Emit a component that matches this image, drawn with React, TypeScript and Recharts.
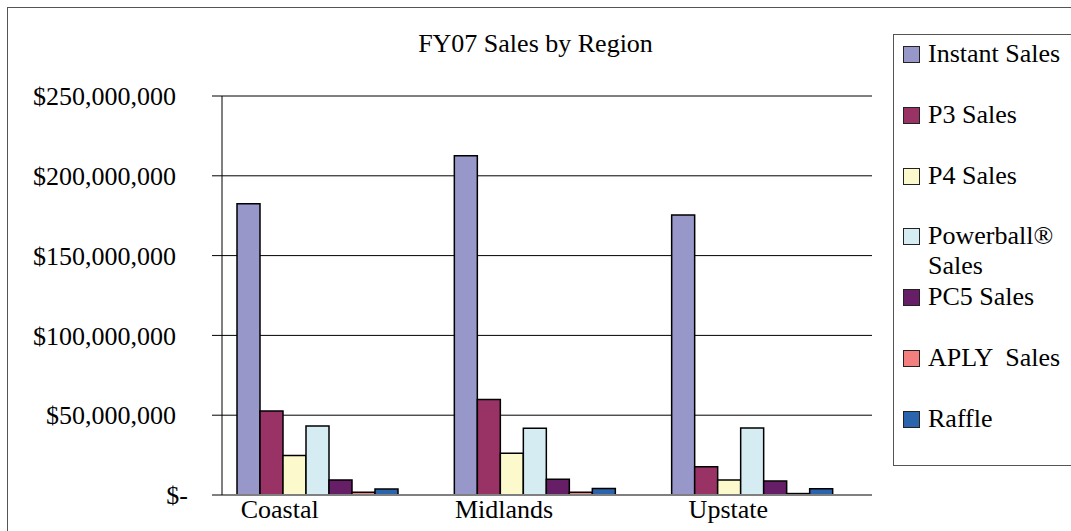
import { BarChart, Bar, XAxis, YAxis, CartesianGrid } from 'recharts';

const regions = ['Coastal', 'Midlands', 'Upstate'];
const instantSales = [182500000, 212500000, 175500000];
const p3Sales = [52700000, 59800000, 17700000];
const p4Sales = [24800000, 26200000, 9400000];
const powerballSales = [43300000, 41900000, 42000000];
const pc5Sales = [9400000, 9800000, 8700000];
const aplySales = [1800000, 1800000, 900000];
const raffleSales = [3700000, 4100000, 3900000];
const yTicks = [0, 50000000, 100000000, 150000000, 200000000, 250000000];

const series = [
  { key: 'instant', name: 'Instant Sales', color: '#9797CA', values: instantSales },
  { key: 'p3', name: 'P3 Sales', color: '#993366', values: p3Sales },
  { key: 'p4', name: 'P4 Sales', color: '#FCFACC', values: p4Sales },
  { key: 'powerball', name: 'Powerball® Sales', color: '#D4ECF2', values: powerballSales },
  { key: 'pc5', name: 'PC5 Sales', color: '#661E66', values: pc5Sales },
  { key: 'aply', name: 'APLY  Sales', color: '#F47F7F', values: aplySales },
  { key: 'raffle', name: 'Raffle', color: '#2A64AD', values: raffleSales },
];

const data = regions.map((region, i) => {
  const row: any = { region };
  series.forEach((s) => { row[s.key] = s.values[i]; });
  return row;
});

const FONT = '"Liberation Serif", "Times New Roman", serif';
const FS = 26;

const fmtMoney = (v: number) => (v === 0 ? '$-' : '$' + v.toLocaleString('en-US'));

const YTick = ({ x, y, payload }: any) => (
  <text x={x + (payload.value === 0 ? 12 : 0)} y={y} dy="0.355em" textAnchor="end" fontSize={FS} fontFamily={FONT} fill="#000">
    {fmtMoney(payload.value)}
  </text>
);

// labels sit left of the bar-group centres, as in the original sheet
const XTick = ({ x, y, payload, index }: any) => (
  <text x={x - 38 + index * 7} y={y} dy="0.71em" textAnchor="middle" fontSize={FS} fontFamily={FONT} fill="#000">
    {payload.value}
  </text>
);

export default function App() {
  return (
    <div style={{ position: 'absolute', left: 0, top: 0, width: 1071, height: 531, overflow: 'hidden', background: '#fff', fontFamily: FONT }}>
      {/* outer chart frame */}
      <div style={{ position: 'absolute', left: 7, top: 7, width: 1100, height: 560, border: '1.5px solid #555' }} />

      <div style={{ position: 'absolute', left: 0, top: 28, width: 1071, textAlign: 'center', fontSize: FS, lineHeight: '32px' }}>
        FY07 Sales by Region
      </div>

      <div style={{ position: 'absolute', left: 0, top: 0 }}>
        <BarChart
          width={1071}
          height={531}
          data={data}
          margin={{ top: 96, right: 199, bottom: 6, left: 122 }}
          barCategoryGap={28}
          barGap={0}
        >
          <CartesianGrid vertical={false} stroke="#000" strokeWidth={1} />
          <XAxis
            dataKey="region"
            height={30}
            padding={{ left: -13, right: 11 }}
            tickLine={false}
            tickSize={0}
            tickMargin={5}
            axisLine={{ stroke: '#808080', strokeWidth: 2 }}
            tick={<XTick />}
          />
          <YAxis
            width={100}
            domain={[0, 250000000]}
            ticks={yTicks}
            interval={0}
            tickSize={10}
            tickMargin={36}
            tickLine={{ stroke: '#000' }}
            axisLine={{ stroke: '#000' }}
            tick={<YTick />}
          />
          {series.map((s) => (
            <Bar key={s.key} dataKey={s.key} name={s.name} fill={s.color} stroke="#000" strokeWidth={1.5} isAnimationActive={false} />
          ))}
        </BarChart>
      </div>

      {/* legend */}
      <div style={{ position: 'absolute', left: 893, top: 34, width: 200, height: 430, border: '1px solid #555', background: '#fff' }}>
        {series.map((s, i) => (
          <div key={s.key} style={{ position: 'absolute', left: 0, top: 4 + i * 60.8, display: 'flex', alignItems: 'flex-start' }}>
            <div style={{ width: 15, height: 15, marginLeft: 9, marginTop: 7, background: s.color, border: '1.5px solid #222' }} />
            <div style={{ marginLeft: 8, width: 145, fontSize: FS, lineHeight: '30px', whiteSpace: 'pre-wrap', color: '#000' }}>{s.name}</div>
          </div>
        ))}
      </div>
    </div>
  );
}
